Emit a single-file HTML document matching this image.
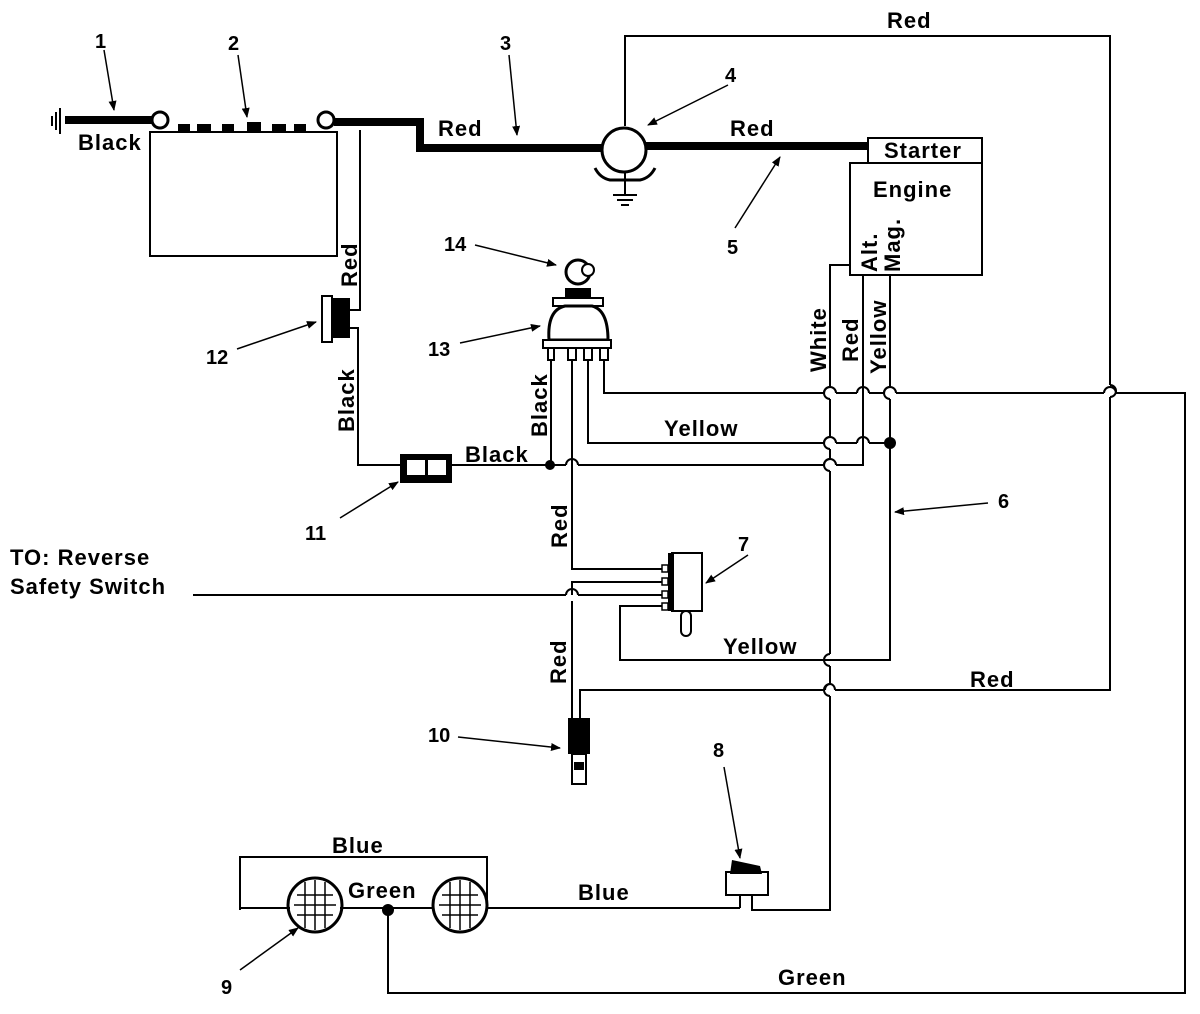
<!DOCTYPE html>
<html><head><meta charset="utf-8"><style>
body{margin:0;background:#fff}
svg{display:block}
text{font-family:"Liberation Sans",Arial,sans-serif;font-weight:bold;fill:#000}
.l{font-size:22px;letter-spacing:1px}
</style></head><body>
<svg width="1200" height="1014" viewBox="0 0 1200 1014" xmlns="http://www.w3.org/2000/svg">
<defs>
<marker id="ar" markerWidth="10" markerHeight="8" refX="9" refY="4" orient="auto" markerUnits="userSpaceOnUse"><path d="M0,0 L10,4 L0,8 z" fill="#000"/></marker>
</defs>
<g fill="none" stroke="#000" stroke-width="2">
<line x1="60" y1="108" x2="60" y2="134"/><line x1="56" y1="112" x2="56" y2="130"/><line x1="52" y1="116" x2="52" y2="126"/>
<rect x="150" y="132" width="187" height="124"/>
<circle cx="160" cy="120" r="8" stroke-width="3"/>
<circle cx="326" cy="120" r="8" stroke-width="3"/>
<polyline points="360,130 360,310 350,310"/>
<polyline points="350,328 358,328 358,465 400,465"/>
<line x1="452" y1="465" x2="550" y2="465"/>
<polyline points="625,126 625,36 1110,36 1110,385"/>
<path d="M1110,385 a6,6 0 0 1 0,12"/>
<polyline points="1110,397 1110,690 835,690"/>
<path d="M835,690 a5,6 0 0 0 -10,0"/>
<polyline points="825,690 580,690 580,722"/>
<polyline points="604,360 604,393 824,393"/>
<path d="M824,393 a6,6 0 0 1 12,0"/><line x1="836" y1="393" x2="857" y2="393"/>
<path d="M857,393 a6,6 0 0 1 12,0"/><line x1="869" y1="393" x2="884" y2="393"/>
<path d="M884,393 a6,6 0 0 1 12,0"/><line x1="896" y1="393" x2="1104" y2="393"/>
<path d="M1104,393 a6,6 0 0 1 12,0"/>
<polyline points="1116,393 1185,393 1185,993 388,993 388,910"/>
<polyline points="588,360 588,443 824,443"/>
<path d="M824,443 a6,6 0 0 1 12,0"/><line x1="836" y1="443" x2="857" y2="443"/>
<path d="M857,443 a6,6 0 0 1 12,0"/><line x1="869" y1="443" x2="890" y2="443"/>
<line x1="551" y1="360" x2="551" y2="465"/>
<line x1="550" y1="465" x2="566" y2="465"/>
<path d="M566,465 a6,6 0 0 1 12,0"/><line x1="578" y1="465" x2="824" y2="465"/>
<path d="M824,465 a6,6 0 0 1 12,0"/><polyline points="836,465 863,465 863,275"/>
<polyline points="572,360 572,569 668,569"/>
<polyline points="850,265 830,265 830,387"/>
<path d="M830,387 a6,6 0 0 0 0,12"/><line x1="830" y1="399" x2="830" y2="437"/>
<path d="M830,437 a6,6 0 0 0 0,12"/><line x1="830" y1="449" x2="830" y2="459"/>
<path d="M830,459 a6,6 0 0 0 0,12"/><line x1="830" y1="471" x2="830" y2="654"/>
<path d="M830,654 a6,6 0 0 0 0,12"/><line x1="830" y1="666" x2="830" y2="684"/>
<path d="M830,684 a6,6 0 0 0 0,12"/><polyline points="830,696 830,910 752,910 752,895"/>
<polyline points="890,275 890,387"/>
<path d="M890,387 a6,6 0 0 0 0,12"/>
<polyline points="890,399 890,660 620,660 620,606 668,606"/>
<line x1="193" y1="595" x2="566" y2="595"/>
<path d="M566,595 a6,6 0 0 1 12,0"/><line x1="578" y1="595" x2="668" y2="595"/>
<polyline points="572,595 572,582 668,582"/>
<line x1="572" y1="601" x2="572" y2="722"/>
<rect x="868" y="138" width="114" height="25"/>
<rect x="850" y="163" width="132" height="112"/>
<polyline points="240,910 240,857 487,857 487,910"/>
<line x1="240" y1="908" x2="290" y2="908"/>
<line x1="340" y1="908" x2="432" y2="908"/>
<line x1="487" y1="908" x2="740" y2="908"/>
<polyline points="740,908 740,895"/>
<circle cx="315" cy="905" r="27" stroke-width="3"/>
<circle cx="460" cy="905" r="27" stroke-width="3"/>
<path d="M297,895 h36 M294,905 h42 M297,915 h36 M305,882 v46 M315,880 v50 M325,882 v46" stroke-width="1.5"/>
<path d="M442,895 h36 M439,905 h42 M442,915 h36 M450,882 v46 M460,880 v50 M470,882 v46" stroke-width="1.5"/>
<line x1="625" y1="170" x2="625" y2="195"/><line x1="613" y1="195" x2="637" y2="195"/><line x1="617" y1="200" x2="633" y2="200"/><line x1="621" y1="205" x2="629" y2="205"/>
<g stroke-width="1.5" marker-end="url(#ar)">
<line x1="104" y1="50" x2="114" y2="110"/>
<line x1="238" y1="55" x2="247" y2="117"/>
<line x1="509" y1="55" x2="517" y2="135"/>
<line x1="728" y1="85" x2="648" y2="125"/>
<line x1="735" y1="228" x2="780" y2="157"/>
<line x1="475" y1="245" x2="556" y2="265"/>
<line x1="460" y1="343" x2="540" y2="326"/>
<line x1="237" y1="349" x2="316" y2="322"/>
<line x1="340" y1="518" x2="398" y2="482"/>
<line x1="748" y1="555" x2="706" y2="583"/>
<line x1="988" y1="503" x2="895" y2="512"/>
<line x1="458" y1="737" x2="560" y2="748"/>
<line x1="724" y1="767" x2="740" y2="858"/>
<line x1="240" y1="970" x2="298" y2="928"/>
</g>
</g>
<polyline points="65,120 152,120" stroke="#000" stroke-width="8" fill="none"/>
<polyline points="334,122 420,122 420,148 602,148" stroke="#000" stroke-width="8" fill="none"/>
<line x1="646" y1="146" x2="868" y2="146" stroke="#000" stroke-width="8"/>
<g fill="#000"><rect x="178" y="124" width="12" height="9"/><rect x="197" y="124" width="14" height="9"/><rect x="222" y="124" width="12" height="9"/><rect x="247" y="122" width="14" height="11"/><rect x="272" y="124" width="14" height="9"/><rect x="294" y="124" width="12" height="9"/></g>
<circle cx="624" cy="150" r="22" fill="#fff" stroke="#000" stroke-width="3"/>
<path d="M595,168 Q600,178 610,180 L640,180 Q650,178 655,168" fill="none" stroke="#000" stroke-width="3"/>
<rect x="322" y="296" width="10" height="46" fill="#fff" stroke="#000" stroke-width="2"/>
<rect x="332" y="298" width="18" height="40" fill="#000"/>
<rect x="400" y="454" width="52" height="29" fill="#000"/>
<rect x="407" y="460" width="18" height="15" fill="#fff"/><rect x="428" y="460" width="18" height="15" fill="#fff"/>
<circle cx="578" cy="272" r="12" fill="#fff" stroke="#000" stroke-width="3"/>
<circle cx="588" cy="270" r="6" fill="#fff" stroke="#000" stroke-width="2"/>
<rect x="565" y="288" width="26" height="10" fill="#000"/>
<rect x="553" y="298" width="50" height="8" fill="#fff" stroke="#000" stroke-width="2"/>
<path d="M549,340 Q547,310 565,306 L592,306 Q608,310 608,340 Z" fill="#fff" stroke="#000" stroke-width="3"/>
<rect x="543" y="340" width="68" height="8" fill="#fff" stroke="#000" stroke-width="2"/>
<g fill="#fff" stroke="#000" stroke-width="2"><rect x="548" y="348" width="6" height="12"/><rect x="568" y="348" width="8" height="12"/><rect x="584" y="348" width="8" height="12"/><rect x="600" y="348" width="8" height="12"/></g>
<rect x="672" y="553" width="30" height="58" fill="#fff" stroke="#000" stroke-width="2"/>
<rect x="668" y="553" width="6" height="58" fill="#000"/>
<g fill="#fff" stroke="#000" stroke-width="1.5"><rect x="662" y="565" width="6" height="7"/><rect x="662" y="578" width="6" height="7"/><rect x="662" y="591" width="6" height="7"/><rect x="662" y="603" width="6" height="7"/></g>
<rect x="681" y="611" width="10" height="25" rx="5" fill="#fff" stroke="#000" stroke-width="2"/>
<rect x="568" y="718" width="22" height="36" fill="#000"/>
<rect x="572" y="754" width="14" height="30" fill="#fff" stroke="#000" stroke-width="2"/>
<rect x="574" y="762" width="10" height="8" fill="#000"/>
<rect x="726" y="872" width="42" height="23" fill="#fff" stroke="#000" stroke-width="2"/>
<path d="M732,860 L760,866 L762,874 L730,874 Z" fill="#000"/>
<g fill="#000"><circle cx="550" cy="465" r="5"/><circle cx="890" cy="443" r="6"/><circle cx="388" cy="910" r="6"/></g>
<g font-size="20">
<text x="95" y="48">1</text><text x="228" y="50">2</text><text x="500" y="50">3</text><text x="725" y="82">4</text>
<text x="727" y="254">5</text><text x="998" y="508">6</text><text x="738" y="551">7</text><text x="713" y="757">8</text>
<text x="221" y="994">9</text><text x="428" y="742">10</text><text x="305" y="540">11</text><text x="206" y="364">12</text>
<text x="428" y="356">13</text><text x="444" y="251">14</text>
</g>
<g class="l">
<text x="78" y="150">Black</text><text x="438" y="136">Red</text><text x="730" y="136">Red</text><text x="887" y="28">Red</text>
<text x="884" y="158">Starter</text><text x="873" y="197">Engine</text>
<text x="465" y="462">Black</text><text x="664" y="436">Yellow</text><text x="723" y="654">Yellow</text><text x="970" y="687">Red</text>
<text x="332" y="853">Blue</text><text x="348" y="898">Green</text><text x="578" y="900">Blue</text><text x="778" y="985">Green</text>
<text x="10" y="565">TO: Reverse</text><text x="10" y="594">Safety Switch</text>
<text transform="translate(357,287) rotate(-90)">Red</text>
<text transform="translate(354,432) rotate(-90)">Black</text>
<text transform="translate(547,437) rotate(-90)">Black</text>
<text transform="translate(567,548) rotate(-90)">Red</text>
<text transform="translate(566,684) rotate(-90)">Red</text>
<text transform="translate(826,372) rotate(-90)">White</text>
<text transform="translate(858,362) rotate(-90)">Red</text>
<text transform="translate(886,374) rotate(-90)">Yellow</text>
<text transform="translate(877,272) rotate(-90)">Alt.</text>
<text transform="translate(900,272) rotate(-90)">Mag.</text>
</g>
</svg>
</body></html>
